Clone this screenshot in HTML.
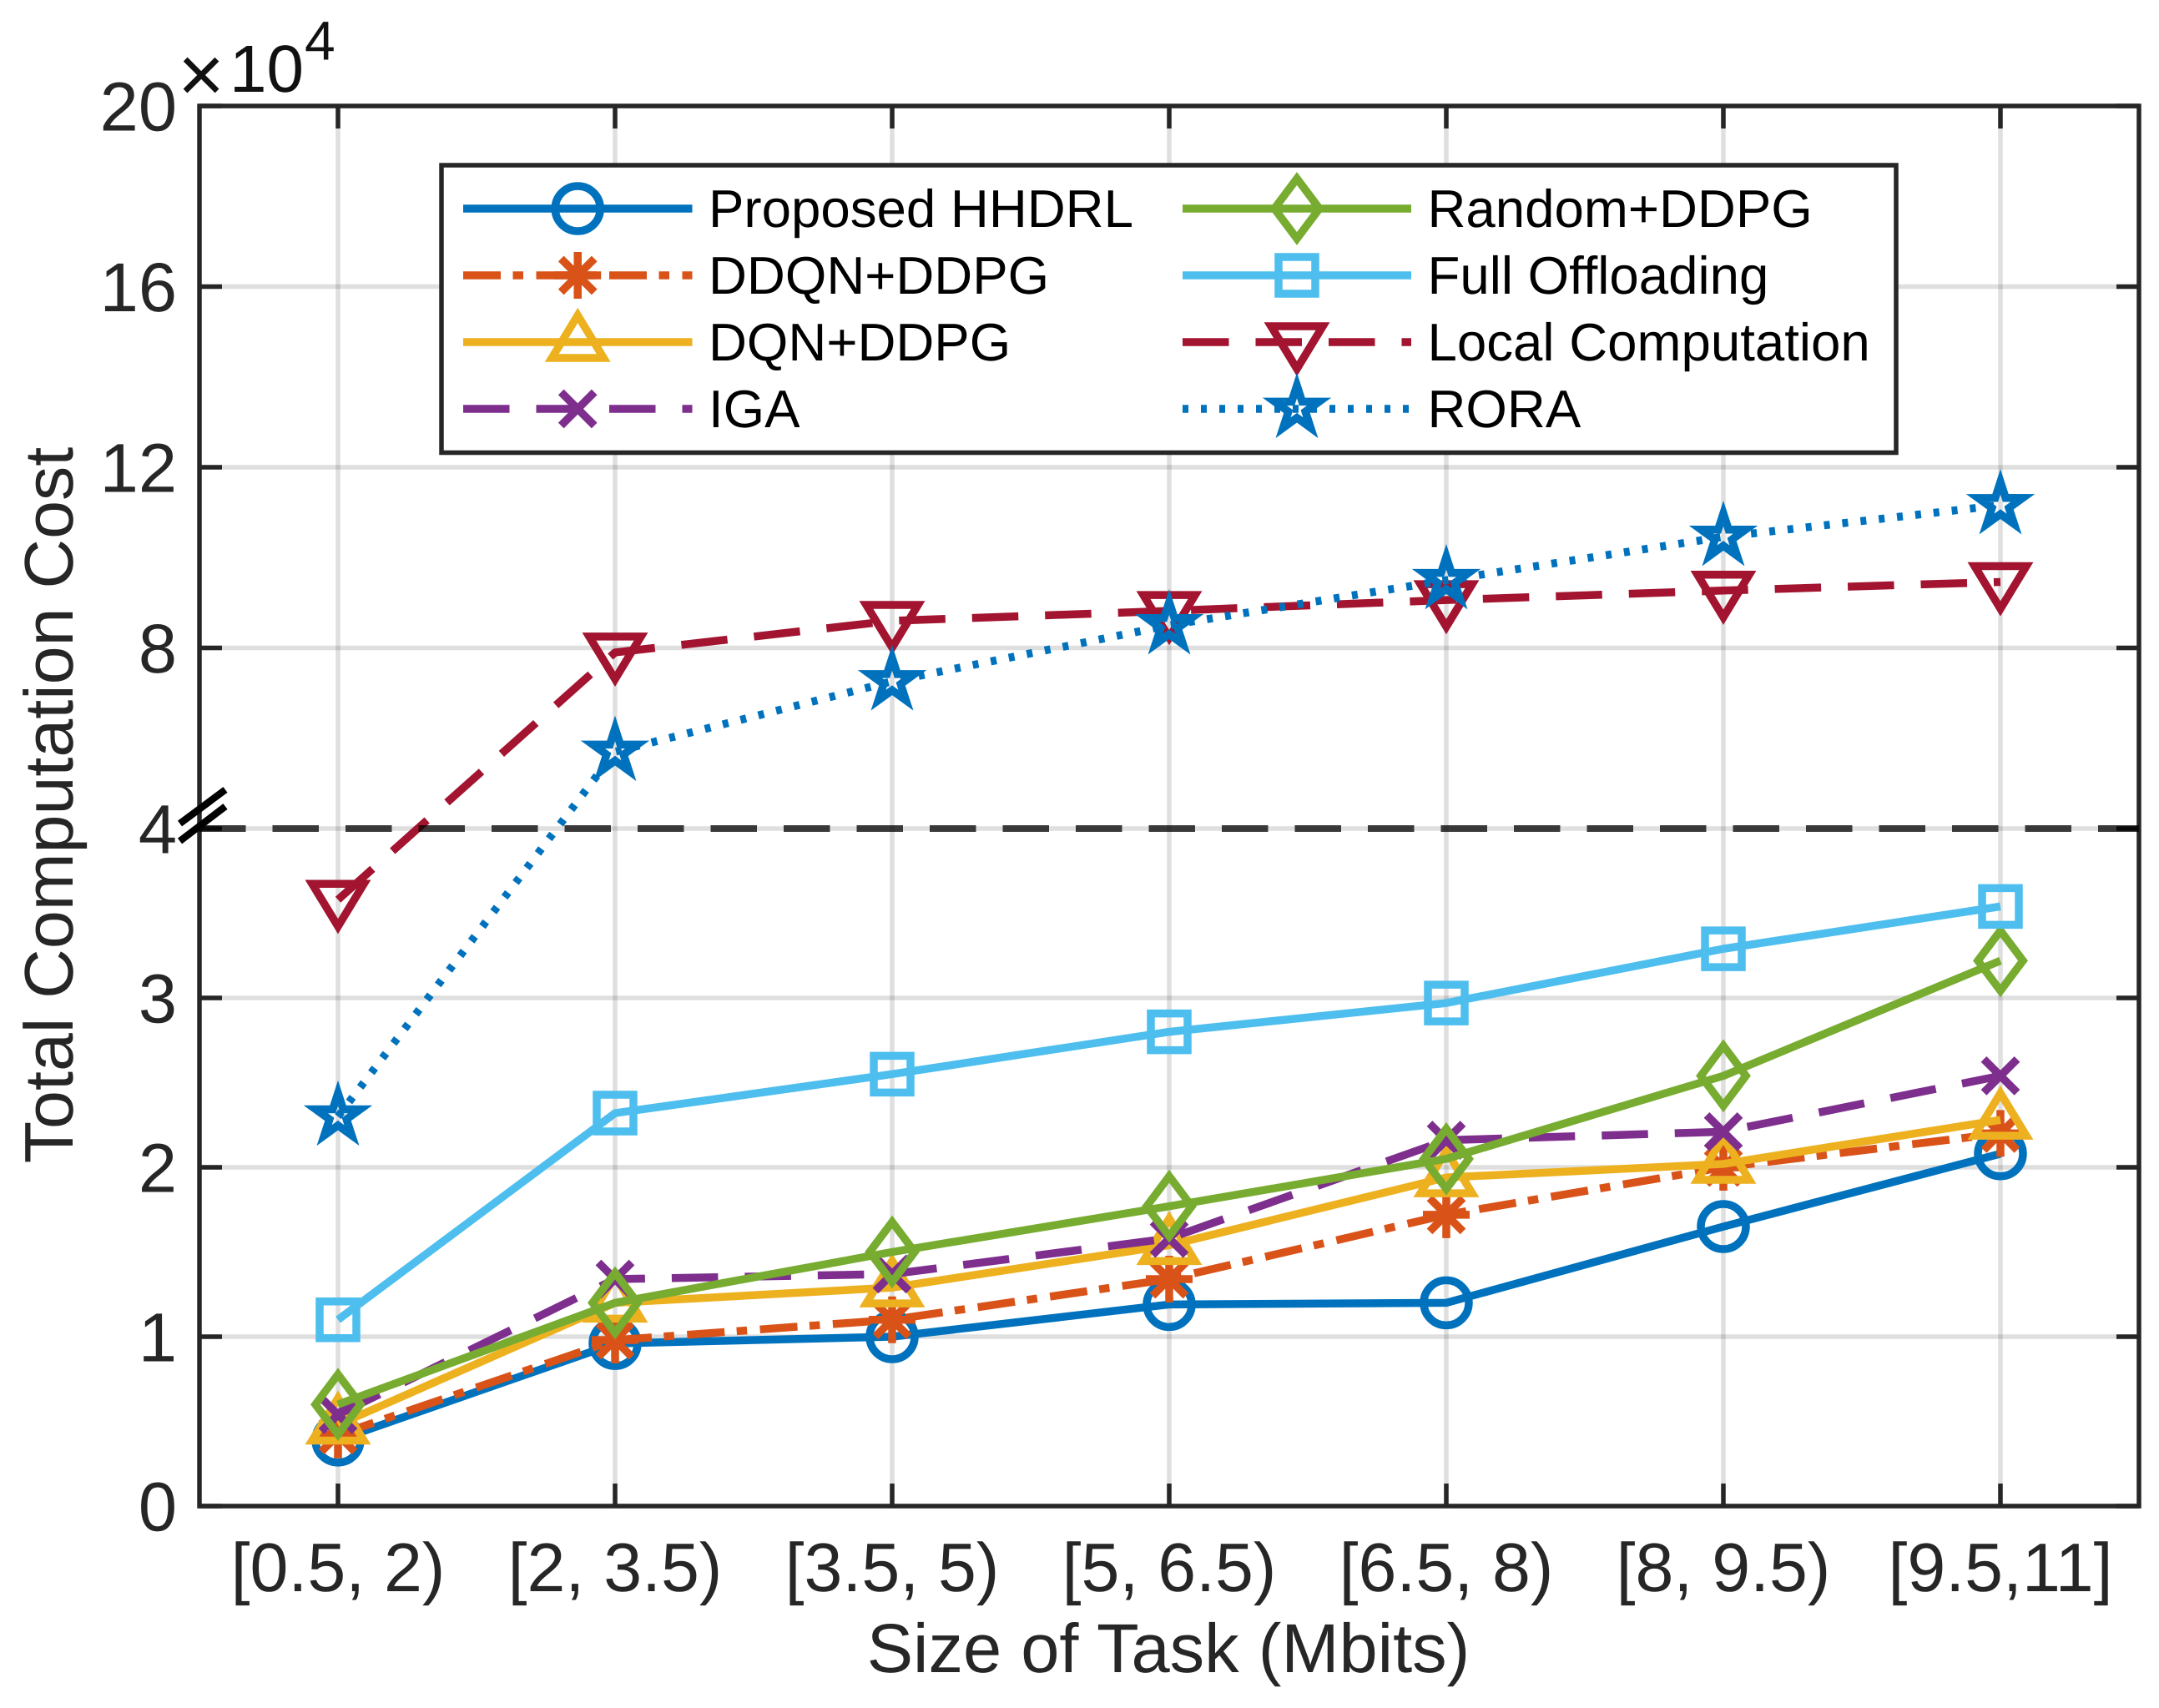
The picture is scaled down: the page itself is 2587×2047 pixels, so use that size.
<!DOCTYPE html>
<html lang="en">
<head>
<meta charset="utf-8">
<title>Total Computation Cost vs Size of Task</title>
<style>
  html, body { margin: 0; padding: 0; background: #fff; }
  svg { display: block; }
  text { font-family: "Liberation Sans", Arial, sans-serif; text-rendering: geometricPrecision; }
</style>
</head>
<body>
<svg id="chart" xmlns="http://www.w3.org/2000/svg" width="2587" height="2047" viewBox="0 0 2587 2047">
  <rect x="0" y="0" width="2587" height="2047" fill="#ffffff"/>
  <g id="grid"></g>
  <g id="series"></g>
  <g id="axes"></g>
  <line x1="239" y1="993" x2="2563" y2="993" stroke="#000" stroke-opacity="0.75" stroke-width="8" stroke-dasharray="55.5 32"/>
  <g stroke="#000" stroke-width="8.5" fill="none">
    <line x1="215.5" y1="987" x2="270" y2="946.5"/>
    <line x1="215.5" y1="1008" x2="270" y2="966.5"/>
  </g>
  <g id="tick-labels" fill="#262626"></g>
  <g fill="#111">
    <text x="213" y="122" font-size="96">×</text>
    <text x="275" y="110" font-size="80">10</text>
    <text x="365" y="71.5" font-size="66">4</text>
  </g>
  <text x="1400" y="2004" font-size="83" text-anchor="middle" fill="#262626">Size of Task (Mbits)</text>
  <text transform="translate(87 965) rotate(-90)" font-size="82.6" text-anchor="middle" fill="#262626">Total Computation Cost</text>
  <g>
    <rect x="529" y="198" width="1743" height="344.5" fill="#ffffff" stroke="#262626" stroke-width="5.5"/>
    <g id="legend-samples"></g>
    <g font-size="63.6" fill="#000">
      <text x="849" y="272">Proposed HHDRL</text>
      <text x="849" y="352">DDQN+DDPG</text>
      <text x="849" y="432">DQN+DDPG</text>
      <text x="849" y="512">IGA</text>
      <text x="1710.5" y="272">Random+DDPG</text>
      <text x="1710.5" y="352">Full Offloading</text>
      <text x="1710.5" y="432">Local Computation</text>
      <text x="1710.5" y="512">RORA</text>
    </g>
  </g>
</svg>
<script>
// ---- chart data (values in units of 10^4) ----
const categories = ["[0.5, 2)", "[2, 3.5)", "[3.5, 5)", "[5, 6.5)", "[6.5, 8)", "[8, 9.5)", "[9.5,11]"];
const yTicks = [0, 1, 2, 3, 4, 8, 12, 16, 20];
const proposedHhdrl = [0.39, 0.96, 1.00, 1.19, 1.20, 1.65, 2.08];
const ddqnDdpg = [0.42, 0.98, 1.10, 1.34, 1.72, 2.00, 2.20];
const dqnDdpg = [0.48, 1.20, 1.29, 1.54, 1.94, 2.02, 2.28];
const iga = [0.54, 1.34, 1.37, 1.58, 2.16, 2.21, 2.54];
const randomDdpg = [0.60, 1.20, 1.50, 1.77, 2.05, 2.54, 3.22];
const fullOffloading = [1.10, 2.32, 2.55, 2.80, 2.97, 3.29, 3.54];
const localComputation = [3.58, 7.90, 8.60, 8.82, 9.06, 9.27, 9.46];
const rora = [2.30, 5.70, 7.26, 8.50, 9.50, 10.46, 11.16];

// ---- axis functions ----
const plot = { left: 239, right: 2563, top: 127, bottom: 1805 };
function xScale(i) { return 405 + 332 * i; }
function yScale(v) { return v <= 4 ? plot.bottom - 203 * v : 993 - (v - 4) * 54.125; }

const NS = "http://www.w3.org/2000/svg";
const LW = 9.5;
function make(tag, attrs, parent) {
  const el = document.createElementNS(NS, tag);
  for (const k in attrs) el.setAttribute(k, attrs[k]);
  parent.appendChild(el);
  return el;
}

// ---- marker shapes ----
function poly(pts, cx, cy) {
  return "M" + pts.map(p => (cx + p[0]) + " " + (cy + p[1])).join("L") + "Z";
}
function starPoints(R) {
  const pts = [], r = R * 0.382;
  for (let i = 0; i < 10; i++) {
    const a = -Math.PI / 2 + i * Math.PI / 5, d = i % 2 ? r : R;
    pts.push([d * Math.cos(a), d * Math.sin(a)]);
  }
  return pts;
}
const markerPaths = {
  circle: (x, y) => `M${x - 27} ${y}a27 27 0 1 0 54 0a27 27 0 1 0 -54 0Z`,
  asterisk: (x, y) => `M${x - 28} ${y}H${x + 28}M${x} ${y - 28}V${y + 28}M${x - 20} ${y - 20}L${x + 20} ${y + 20}M${x - 20} ${y + 20}L${x + 20} ${y - 20}`,
  up: (x, y) => poly([[0, -32], [31, 19], [-31, 19]], x, y),
  cross: (x, y) => `M${x - 20} ${y - 20}L${x + 20} ${y + 20}M${x - 20} ${y + 20}L${x + 20} ${y - 20}`,
  diamond: (x, y) => poly([[0, -36], [27, 0], [0, 36], [-27, 0]], x, y),
  square: (x, y) => poly([[-22, -22], [22, -22], [22, 22], [-22, 22]], x, y),
  down: (x, y) => poly([[0, 32], [31, -19], [-31, -19]], x, y),
  star: (x, y) => poly(starPoints(28), x, y)
};

// ---- series styling ----
const seriesValues = [proposedHhdrl, ddqnDdpg, dqnDdpg, iga, randomDdpg, fullOffloading, localComputation, rora];
const seriesKeys = ["proposed-hhdrl", "ddqn-ddpg", "dqn-ddpg", "iga", "random-ddpg", "full-offloading", "local-computation", "rora"];
const seriesColors = ["#0072BD", "#D95319", "#EDB120", "#7E2F8E", "#77AC30", "#4DBEEE", "#A2142F", "#0072BD"];
const seriesMarkers = ["circle", "asterisk", "up", "cross", "diamond", "square", "down", "star"];
const seriesDashes = ["none", "45 14.5 12.5 15.5", "none", "55.5 32", "none", "none", "55.5 32", "7 15"];

// ---- grid ----
const gridG = document.getElementById("grid");
categories.forEach((c, i) => {
  const g = make("line", { x1: xScale(i), x2: xScale(i), y1: plot.top, y2: plot.bottom, stroke: "#262626", "stroke-opacity": 0.15, "stroke-width": 5.5 }, gridG);
  
  
});
yTicks.forEach(t => {
  if (t === 0 || t === 20) return;
  const g = make("line", { x1: plot.left, x2: plot.right, y1: yScale(t), y2: yScale(t), stroke: "#262626", "stroke-opacity": 0.15, "stroke-width": 5.5 }, gridG);
  
  
});

// ---- series ----
const seriesG = document.getElementById("series");
seriesValues.forEach((vals, s) => {
  const group = make("g", {}, seriesG);
  
  
  const d = vals.map((v, i) => (i ? "L" : "M") + xScale(i) + " " + yScale(v)).join("");
  const line = make("path", { d: d, fill: "none", stroke: seriesColors[s], "stroke-width": LW, "stroke-dasharray": seriesDashes[s], "stroke-linejoin": "round" }, group);
  
  
  vals.forEach((v, i) => {
    const m = make("path", { d: markerPaths[seriesMarkers[s]](xScale(i), yScale(v)), fill: "none", stroke: seriesColors[s], "stroke-width": LW, "stroke-miterlimit": 10 }, group);
    
    
  });
});

// ---- axes ----
const axesG = document.getElementById("axes");
const frame = make("rect", { x: plot.left, y: plot.top, width: plot.right - plot.left, height: plot.bottom - plot.top, fill: "none", stroke: "#262626", "stroke-width": 5.5 }, axesG);


const TL = 27;
categories.forEach((c, i) => {
  const x = xScale(i);
  const bt = make("line", { x1: x, x2: x, y1: plot.bottom, y2: plot.bottom - TL, stroke: "#262626", "stroke-width": 5.5 }, axesG);
  
  
  const tt = make("line", { x1: x, x2: x, y1: plot.top, y2: plot.top + TL, stroke: "#262626", "stroke-width": 5.5 }, axesG);
  
  
});
yTicks.forEach(t => {
  const y = yScale(t);
  const lt = make("line", { x1: plot.left, x2: plot.left + TL, y1: y, y2: y, stroke: "#262626", "stroke-width": 5.5 }, axesG);
  
  
  const rt = make("line", { x1: plot.right, x2: plot.right - TL, y1: y, y2: y, stroke: "#262626", "stroke-width": 5.5 }, axesG);
  
  
});

// ---- tick labels ----
const labelsG = document.getElementById("tick-labels");
categories.forEach((c, i) => {
  const t = make("text", { x: xScale(i), y: 1907, "text-anchor": "middle", "font-size": 82.5 }, labelsG);
  t.textContent = c;
  
  
});
yTicks.forEach(v => {
  const t = make("text", { x: 212, y: yScale(v) + 29.5, "text-anchor": "end", "font-size": 83 }, labelsG);
  t.textContent = String(v);
  
  
});

// ---- legend samples ----
const legendG = document.getElementById("legend-samples");
seriesKeys.forEach((key, s) => {
  const col = s < 4 ? 0 : 1;
  const row = s < 4 ? s : s - 4;
  const x0 = col ? 1417 : 555;
  const x1 = col ? 1691 : 829.5;
  const y = 250 + row * 80;
  const group = make("g", {}, legendG);
  
  
  const line = make("line", { x1: x0, x2: x1, y1: y, y2: y, stroke: seriesColors[s], "stroke-width": LW, "stroke-dasharray": seriesDashes[s] }, group);
  
  
  const m = make("path", { d: markerPaths[seriesMarkers[s]]((x0 + x1) / 2, y), fill: "none", stroke: seriesColors[s], "stroke-width": LW, "stroke-miterlimit": 10 }, group);
  
  
});
</script>
</body>
</html>
